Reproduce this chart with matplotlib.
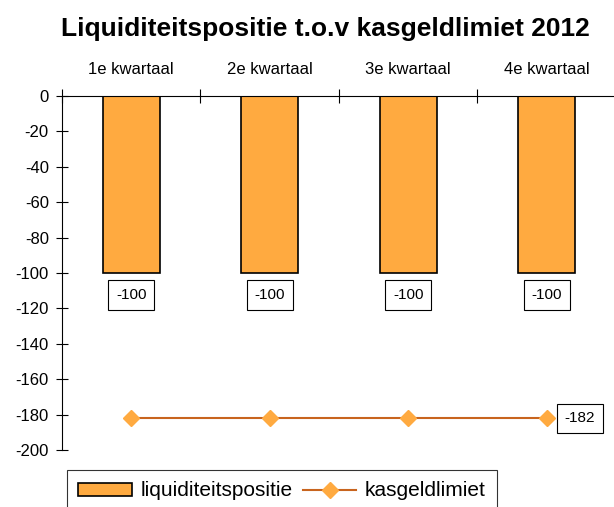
import numpy as np
from matplotlib import pyplot as plt

plt.rcParams['font.family'] = ['Liberation Sans', 'DejaVu Sans']
plt.rcParams['axes.unicode_minus'] = False

quarters = ['1e kwartaal', '2e kwartaal', '3e kwartaal', '4e kwartaal']
liquiditeit = [-100, -100, -100, -100]
kasgeldlimiet = [-182, -182, -182, -182]

fig = plt.figure(figsize=(6.14, 5.07), dpi=100)
ax = fig.add_axes([0.101, 0.1124, 0.902, 0.6983])

x = np.arange(len(quarters))
bars = ax.bar(x, liquiditeit, width=0.41, color='#FFAA40', edgecolor='black',
              linewidth=1.2, label='liquiditeitspositie', zorder=2)
line, = ax.plot(x, kasgeldlimiet, color='#C8641E', linewidth=1.5, marker='D',
                markersize=8, markerfacecolor='#FFAA40', markeredgecolor='#FFAA40',
                label='kasgeldlimiet', zorder=3)

box = dict(boxstyle='square,pad=0.5', facecolor='white', edgecolor='black', linewidth=0.8)
for xi, v in zip(x, liquiditeit):
    ax.text(xi, v - 12.5, str(v), ha='center', va='center', fontsize=11, bbox=box)
ax.text(x[-1] + 0.13, kasgeldlimiet[-1], str(kasgeldlimiet[-1]), ha='left',
        va='center', fontsize=11, bbox=box)

ax.set_xlim(-0.5, 3.5)
ax.set_ylim(-200, 0)
ax.set_yticks(np.arange(-200, 1, 20))
ax.set_xticks(np.arange(-0.5, 3.6, 1))
ax.set_xticklabels([])
ax.set_xticks(x, minor=True)
ax.set_xticklabels(quarters, minor=True)
ax.tick_params(axis='x', which='minor', length=0, top=True, bottom=False,
               labeltop=True, labelbottom=False, labelsize=12, pad=14)
ax.tick_params(axis='x', which='major', direction='inout', length=10,
               top=True, bottom=False, labeltop=False, labelbottom=False)
ax.tick_params(axis='y', direction='inout', length=9, labelsize=12, pad=5)

ax.spines['right'].set_visible(False)
ax.spines['bottom'].set_visible(False)
ax.spines['left'].set_bounds(-200, 0)

fig.text(0.53, 0.943, 'Liquiditeitspositie t.o.v kasgeldlimiet 2012',
         ha='center', va='center', fontsize=19, fontweight='bold')

leg = ax.legend([bars, line], ['liquiditeitspositie', 'kasgeldlimiet'],
                loc='upper left', bbox_to_anchor=(0.109, 0.073), ncol=2,
                bbox_transform=fig.transFigure,
                frameon=True, fancybox=False, edgecolor='black', fontsize=15,
                handlelength=2.55, handleheight=0.58, columnspacing=0.5,
                handletextpad=0.43, borderpad=0.55, borderaxespad=0)
leg.get_frame().set_linewidth(0.8)

fig.savefig('out.png', dpi=100)
